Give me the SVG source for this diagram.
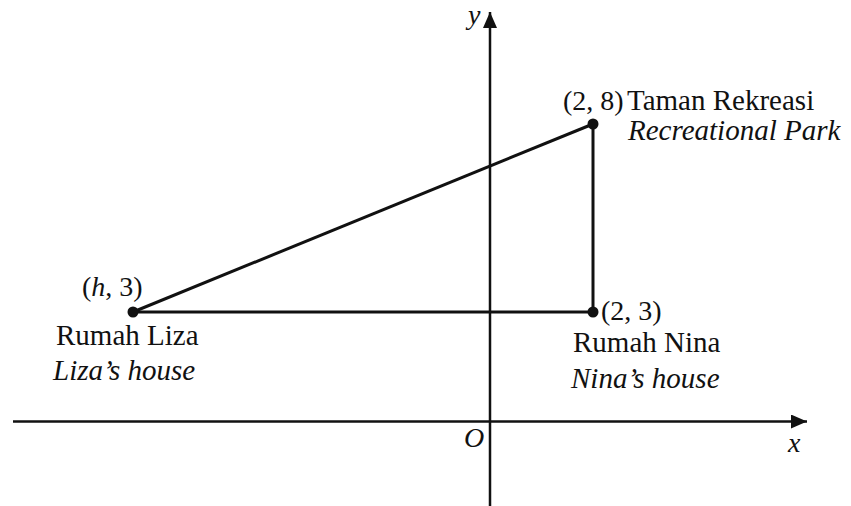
<svg xmlns="http://www.w3.org/2000/svg" width="851" height="506" viewBox="0 0 851 506">
  <style>
    text { font-family: "Liberation Serif", "Times New Roman", serif; font-size: 29px; fill: #111; }
    .coord { font-size: 28px; }
    .it { font-style: italic; }
    .axis { stroke: #111; stroke-width: 2.5; fill: none; }
    .edge { stroke: #111; stroke-width: 3; fill: none; }
    .dot { fill: #111; }
  </style>
  <defs>
    <marker id="arrow" viewBox="0 0 16 14" refX="16" refY="7" markerWidth="16" markerHeight="14" markerUnits="userSpaceOnUse" orient="auto">
      <path d="M0,0 L16,7 L0,14 Z" fill="#111"/>
    </marker>
  </defs>
  <rect width="851" height="506" fill="#fff"/>

  <g id="axes">
    <line class="axis" x1="13" y1="421.5" x2="807" y2="421.5" marker-end="url(#arrow)"/>
    <line class="axis" x1="490" y1="506" x2="490" y2="12" marker-end="url(#arrow)"/>
    <text class="it coord" x="468" y="24">y</text>
    <text class="it coord" x="788" y="452">x</text>
    <text class="it coord" x="464" y="447">O</text>
  </g>

  <g id="connectors">
    <line class="edge" x1="133" y1="312" x2="593" y2="312"/>
    <line class="edge" x1="593" y1="312" x2="593" y2="124"/>
    <line class="edge" x1="133" y1="312" x2="593" y2="124"/>
  </g>

  <g id="liza-house">
    <circle class="dot" cx="133" cy="312" r="5.5"/>
    <text class="coord" x="82" y="296">(<tspan class="it">h</tspan>, 3)</text>
    <text x="56" y="345">Rumah Liza</text>
    <text class="it" x="53" y="380">Liza’s house</text>
  </g>

  <g id="nina-house">
    <circle class="dot" cx="593" cy="312" r="5.5"/>
    <text class="coord" x="601" y="320">(2, 3)</text>
    <text x="573" y="352">Rumah Nina</text>
    <text class="it" x="571" y="388">Nina’s house</text>
  </g>

  <g id="recreational-park">
    <circle class="dot" cx="593" cy="124" r="5.5"/>
    <text class="coord" x="563" y="110">(2, 8)</text>
    <text x="627" y="110">Taman Rekreasi</text>
    <text class="it" x="628" y="140">Recreational Park</text>
  </g>
</svg>
